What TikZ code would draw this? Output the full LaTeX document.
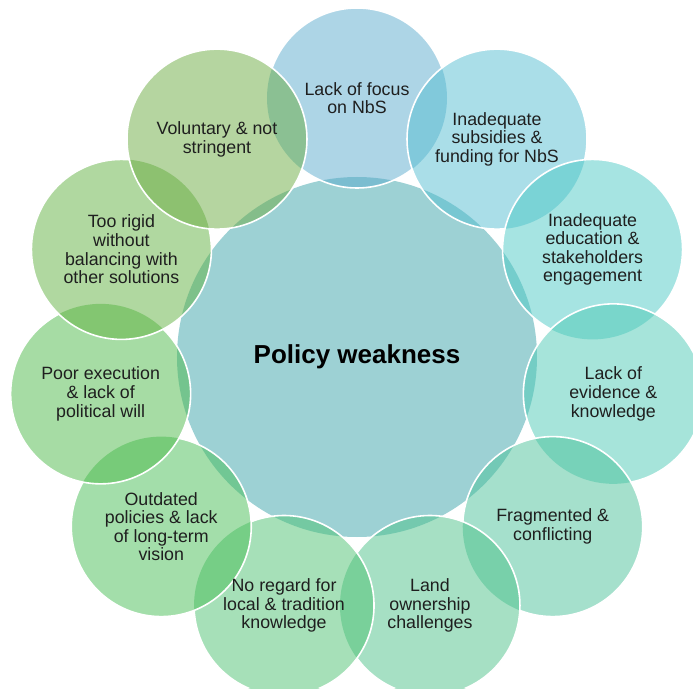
\documentclass[tikz,border=0pt]{standalone}
\usepackage{fontspec}
\setmainfont{Liberation Sans}
\definecolor{colhub}{RGB}{59,163,169}
\definecolor{colfocus}{RGB}{91,171,205}
\definecolor{colfunding}{RGB}{85,189,209}
\definecolor{coleducation}{RGB}{77,201,197}
\definecolor{colevidence}{RGB}{77,201,181}
\definecolor{colconflict}{RGB}{75,193,153}
\definecolor{colland}{RGB}{77,193,137}
\definecolor{coltradition}{RGB}{77,193,113}
\definecolor{colvision}{RGB}{71,189,85}
\definecolor{colwill}{RGB}{77,185,73}
\definecolor{colrigid}{RGB}{97,177,65}
\definecolor{colvoluntary}{RGB}{107,171,65}

\begin{document}
\begin{tikzpicture}[x=1pt,y=1pt,
  hub/.style={circle,minimum size=360pt,inner sep=0pt,fill=colhub,fill opacity=.5,
    text opacity=1,font=\fontsize{26}{30}\selectfont\bfseries},
  rim/.style={white,line width=1.6pt},
  tag/.style={align=center,text=black!88,font=\fontsize{17.8}{18.6}\selectfont}]
  \clip (-357,-331) rectangle (336,357);
  \node[hub] (hub) at (0,0) {Policy weakness};
  % eleven petals, clockwise from the top
  \foreach \p [count=\i from 0] in {focus,funding,education,evidence,conflict,land,
      tradition,vision,will,rigid,voluntary}{
    \coordinate (\p) at ({90-360/11*\i}:259);
    \fill[col\p,fill opacity=.5] (\p) circle (90);
  }
  % white rims, cut away where a later petal lies on top
  \foreach \p/\q in {focus/{funding,voluntary},funding/education,education/evidence,
      evidence/conflict,conflict/land,land/tradition,tradition/vision,vision/will,
      will/rigid,rigid/voluntary}{
    \begin{scope}[even odd rule]
      \clip (-357,-331) rectangle (336,357) \foreach \c in \q {(\c) circle (90)};
      \draw[rim] (\p) circle (90);
    \end{scope}
  }
  \draw[rim] (voluntary) circle (90);
  % labels
  \foreach \p/\txt in {focus/{Lack of focus\\on NbS},
      funding/{Inadequate\\subsidies \&\\funding for NbS},
      education/{Inadequate\\education \&\\stakeholders\\engagement},
      evidence/{Lack of\\evidence \&\\knowledge},
      conflict/{Fragmented \&\\conflicting},
      land/{Land\\ownership\\challenges},
      tradition/{No regard for\\local \& tradition\\knowledge},
      vision/{Outdated\\policies \& lack\\of long-term\\vision},
      will/{Poor execution\\\& lack of\\political will},
      rigid/{Too rigid\\without\\balancing with\\other solutions},
      voluntary/{Voluntary \& not\\stringent}}
    \node[tag] (\p-tag) at (\p) {\txt};
\end{tikzpicture}
\end{document}
